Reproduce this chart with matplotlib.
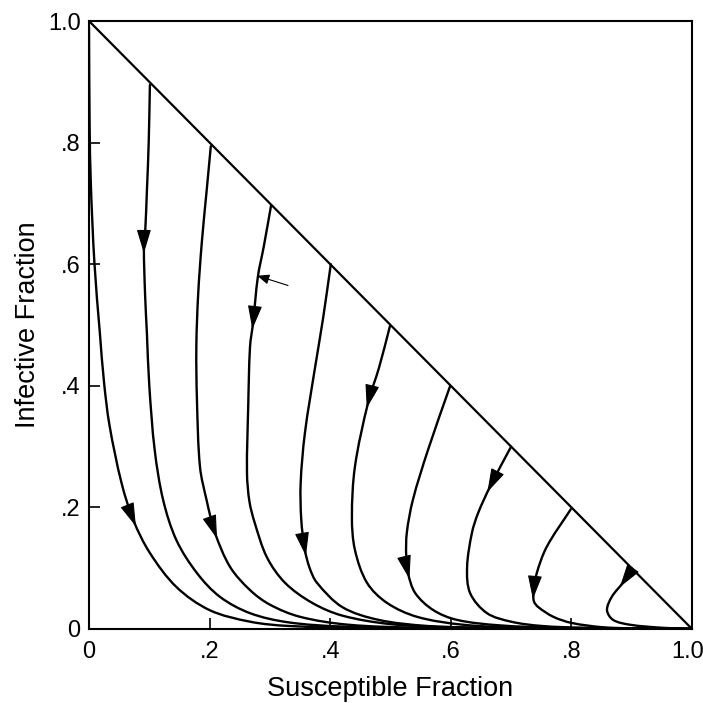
import numpy as np
import matplotlib
matplotlib.use("Agg")
import matplotlib.pyplot as plt
import matplotlib.transforms as mtransforms
from matplotlib.path import Path
from matplotlib.patches import PathPatch

plt.rcParams['font.family'] = ['Liberation Sans', 'DejaVu Sans']

# Trajectories (susceptible fraction s, infective fraction i)
A_s = [0.0, 0.001, 0.003, 0.009, 0.018, 0.025, 0.034, 0.054, 0.074, 0.101, 0.145, 0.20, 0.267, 0.33, 0.45, 0.6, 1.0]
A_i = [0.99, 0.83, 0.733, 0.602, 0.487, 0.405, 0.335, 0.24, 0.178, 0.125, 0.069, 0.031, 0.012, 0.005, 0.002, 0.001, 0.0]
B_s = [0.101, 0.099, 0.096, 0.093, 0.091, 0.093, 0.096, 0.100, 0.109, 0.123, 0.145, 0.179, 0.217, 0.267, 0.33, 0.42, 0.6, 1.0]
B_i = [0.895, 0.80, 0.72, 0.65, 0.628, 0.55, 0.487, 0.40, 0.294, 0.212, 0.146, 0.092, 0.053, 0.026, 0.011, 0.004, 0.001, 0.0]
C_s = [0.202, 0.195, 0.187, 0.181, 0.178, 0.179, 0.184, 0.195, 0.209, 0.234, 0.267, 0.30, 0.35, 0.43, 0.55, 0.7, 1.0]
C_i = [0.794, 0.72, 0.635, 0.55, 0.464, 0.377, 0.267, 0.212, 0.158, 0.102, 0.064, 0.040, 0.020, 0.007, 0.002, 0.001, 0.0]
D_s = [0.302, 0.29, 0.28, 0.272, 0.267, 0.264, 0.262, 0.266, 0.275, 0.295, 0.325, 0.37, 0.42, 0.5, 0.6, 0.75, 1.0]
D_i = [0.697, 0.63, 0.579, 0.503, 0.464, 0.365, 0.257, 0.21, 0.174, 0.118, 0.076, 0.043, 0.022, 0.008, 0.003, 0.001, 0.0]
E_s = [0.401, 0.388, 0.375, 0.358, 0.351, 0.352, 0.358, 0.366, 0.378, 0.42, 0.48, 0.56, 0.65, 0.8, 1.0]
E_i = [0.600, 0.51, 0.431, 0.322, 0.24, 0.18, 0.13, 0.10, 0.076, 0.036, 0.015, 0.005, 0.002, 0.001, 0.0]
F_s = [0.499, 0.481, 0.463, 0.441, 0.436, 0.441, 0.461, 0.494, 0.544, 0.62, 0.72, 0.85, 1.0]
F_i = [0.498, 0.43, 0.373, 0.267, 0.184, 0.13, 0.076, 0.043, 0.020, 0.007, 0.002, 0.001, 0.0]
G_s = [0.599, 0.562, 0.537, 0.527, 0.526, 0.529, 0.541, 0.571, 0.61, 0.68, 0.78, 0.9, 1.0]
G_i = [0.400, 0.294, 0.212, 0.158, 0.12, 0.092, 0.059, 0.031, 0.015, 0.006, 0.002, 0.001, 0.0]
H_s = [0.70, 0.665, 0.645, 0.635, 0.627, 0.632, 0.66, 0.70, 0.75, 0.82, 1.0]
H_i = [0.30, 0.234, 0.19, 0.158, 0.102, 0.059, 0.026, 0.012, 0.005, 0.002, 0.0]
I_s = [0.799, 0.759, 0.742, 0.737, 0.738, 0.745, 0.77, 0.80, 0.85, 0.9, 1.0]
I_i = [0.197, 0.135, 0.09, 0.059, 0.045, 0.036, 0.020, 0.010, 0.003, 0.001, 0.0]
J_s = [0.90, 0.886, 0.867, 0.859, 0.869, 0.897, 0.95, 1.0]
J_i = [0.10, 0.077, 0.053, 0.031, 0.015, 0.007, 0.002, 0.0]

curves = [(A_s, A_i), (B_s, B_i), (C_s, C_i), (D_s, D_i), (E_s, E_i),
          (F_s, F_i), (G_s, G_i), (H_s, H_i), (I_s, I_i), (J_s, J_i)]

# arrowhead positions (one per curve)
arrow_s = [0.074, 0.091, 0.209, 0.272, 0.358, 0.463, 0.529, 0.665, 0.737, 0.886]
arrow_i = [0.178, 0.628, 0.158, 0.503, 0.13, 0.373, 0.092, 0.234, 0.059, 0.077]

tick_vals = [0, 0.2, 0.4, 0.6, 0.8, 1.0]
tick_labels = ['0', '.2', '.4', '.6', '.8', '1.0']


def smooth_path(xs, ys):
    """Cubic Bezier path passing through every given point (chord-length tangents)."""
    P = np.column_stack([xs, ys]).astype(float)
    n = len(P)
    seg = np.hypot(*(P[1:] - P[:-1]).T)
    t = np.concatenate([[0], np.cumsum(seg)])
    M = np.zeros_like(P)
    M[0] = (P[1] - P[0]) / (t[1] - t[0])
    M[-1] = (P[-1] - P[-2]) / (t[-1] - t[-2])
    for k in range(1, n - 1):
        M[k] = (P[k + 1] - P[k - 1]) / (t[k + 1] - t[k - 1])
    verts = [P[0]]
    codes = [Path.MOVETO]
    for k in range(n - 1):
        h = t[k + 1] - t[k]
        verts += [P[k] + M[k] * h / 3, P[k + 1] - M[k + 1] * h / 3, P[k + 1]]
        codes += [Path.CURVE4] * 3
    return Path(verts, codes), M


fig = plt.figure(figsize=(7.03, 7.03), dpi=100)
ax = fig.add_axes([0.1266, 0.1053, 0.8578, 0.8648])
ax.set_xlim(0, 1)
ax.set_ylim(0, 1)

# boundary line s + i = 1
ax.plot([0, 1], [1, 0], color='black', lw=1.6, solid_capstyle='butt')

for (cs, ci), ts, ti in zip(curves, arrow_s, arrow_i):
    path, M = smooth_path(cs, ci)
    ax.add_patch(PathPatch(path, facecolor='none', edgecolor='black', lw=1.7,
                           joinstyle='round', capstyle='round'))
    pts = np.column_stack([cs, ci])
    k = int(np.argmin((pts[:, 0] - ts) ** 2 + (pts[:, 1] - ti) ** 2))
    d = M[k] / np.hypot(*M[k])
    tip = np.array([ts, ti]) + d * 0.010
    ax.annotate('', xy=tuple(tip), xytext=tuple(tip - d * 0.005),
                arrowprops=dict(arrowstyle='-|>,head_length=1.0,head_width=0.3',
                                mutation_scale=15, color='black', lw=0.8,
                                shrinkA=0, shrinkB=0))

# small stray mark near the 0.3 trajectory
ax.annotate('', xy=(0.279, 0.581), xytext=(0.33, 0.565),
            arrowprops=dict(arrowstyle='-|>,head_length=0.6,head_width=0.25',
                            mutation_scale=12, color='black', lw=0.8,
                            shrinkA=0, shrinkB=0))

for sp in ax.spines.values():
    sp.set_linewidth(1.5)

ax.set_xticks(tick_vals)
ax.set_xticklabels(tick_labels)
ax.set_yticks(tick_vals)
ax.set_yticklabels(tick_labels)
ax.tick_params(direction='in', length=8, width=1.2, labelsize=17)
ax.tick_params(axis='x', pad=9)
ax.tick_params(axis='y', pad=6)

# nudge the last x tick label slightly left so it stays inside the figure
last = ax.get_xticklabels()[-1]
last.set_transform(last.get_transform() + mtransforms.ScaledTranslation(-4 / 100, 0, fig.dpi_scale_trans))

ax.set_xlabel('Susceptible Fraction', fontsize=19.5)
ax.set_ylabel('Infective Fraction', fontsize=19.5)
ax.xaxis.set_label_coords(0.5, -0.078)
ax.yaxis.set_label_coords(-0.080, 0.5)

fig.savefig('out.png', dpi=100)
